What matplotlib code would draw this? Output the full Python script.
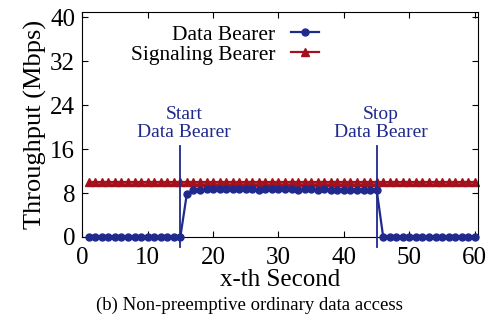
import numpy as np
import matplotlib.pyplot as plt

plt.rcParams['font.family'] = ['Liberation Serif', 'DejaVu Serif']

# seconds 1..60
seconds = list(range(1, 61))
data_bearer = ([0.0] * 15 +
               [7.9, 8.5, 8.6, 8.7, 8.7, 8.8, 8.7, 8.7, 8.8, 8.7,
                8.7, 8.6, 8.7, 8.7, 8.8, 8.7, 8.7, 8.6, 8.7, 8.7,
                8.6, 8.7, 8.6, 8.6, 8.5, 8.6, 8.5, 8.6, 8.5, 8.6] +
               [0.0] * 15)
signaling_bearer = [10.0] * 60

start_x = 15
stop_x = 45

blue = '#1f2a8c'
red = '#a3111d'

fig = plt.figure(figsize=(4.98, 3.22), dpi=100)
ax = fig.add_axes([0.165, 0.264, 0.795, 0.699])

ax.plot(seconds, data_bearer, color=blue, marker='o', markersize=5, lw=1.6,
        label='Data Bearer', clip_on=False, zorder=3)
ax.plot(seconds, signaling_bearer, color=red, marker='^', markersize=5.5, lw=1.6,
        label='Signaling Bearer', clip_on=False, zorder=2)

# start / stop markers
for xv in [start_x, stop_x]:
    ax.plot([xv, xv], [-1.8, 16.5], color=blue, lw=1.3, clip_on=False, zorder=4)
ax.text(start_x + 0.6, 17.5, 'Start\nData Bearer', color=blue, fontsize=14,
        ha='center', va='bottom', linespacing=1.05)
ax.text(stop_x + 0.6, 17.5, 'Stop\nData Bearer', color=blue, fontsize=14,
        ha='center', va='bottom', linespacing=1.05)

ax.set_xlim(0, 60.5)
ax.set_ylim(0, 41)
ax.set_xticks([0, 10, 20, 30, 40, 50, 60])
ax.set_yticks([0, 8, 16, 24, 32, 40])
ax.tick_params(labelsize=18, direction='in', length=4, top=True, right=True)
ax.tick_params(axis='x', pad=7)
ax.tick_params(axis='y', pad=5)
ax.set_xlabel('x-th Second', fontsize=18, labelpad=0)
ax.set_ylabel('Throughput (Mbps)', fontsize=19, labelpad=2)

ax.legend(loc='upper right', bbox_to_anchor=(0.63, 1.0), markerfirst=False,
          frameon=False, fontsize=15.5, handlelength=1.3, labelspacing=0.0,
          borderaxespad=0.2, handletextpad=0.7)

fig.text(0.5, 0.052, '(b) Non-preemptive ordinary data access', fontsize=13.5,
         ha='center', va='center')

fig.savefig('out.png', dpi=100)
